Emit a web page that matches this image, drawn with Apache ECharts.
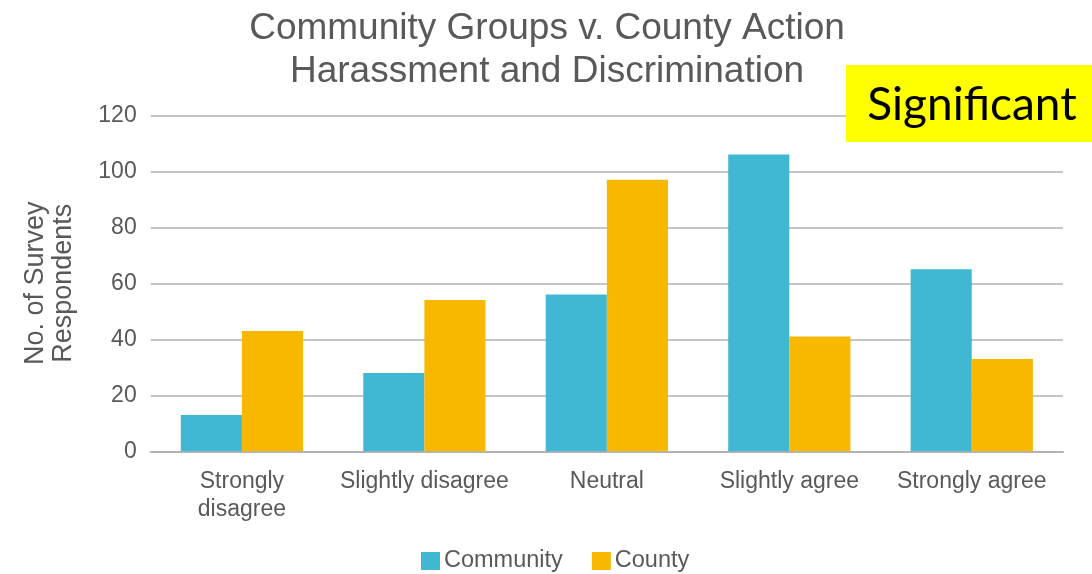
<!DOCTYPE html>
<html>
<head>
<meta charset="utf-8">
<title>Community Groups v. County Action</title>
<script src="https://cdn.jsdelivr.net/npm/echarts@6/dist/echarts.min.js"></script>
<style>
  html, body { margin: 0; padding: 0; background: #ffffff; }
  #chart { width: 1092px; height: 574px; }
</style>
</head>
<body>
<div id="chart"></div>
<script>
// Survey responses, grouped by answer
const categories = ['Strongly\ndisagree', 'Slightly disagree', 'Neutral', 'Slightly agree', 'Strongly agree'];
const communityValues = [13, 28, 56, 106, 65];
const countyValues = [43, 54, 97, 41, 33];
const seriesNames = ['Community', 'County'];
const yTicks = { min: 0, max: 120, interval: 20 };

const textGray = '#595959';
const font = '"Liberation Sans", Arial, sans-serif';

const chart = echarts.init(document.getElementById('chart'), null, { renderer: 'canvas' });

chart.setOption({
  backgroundColor: '#ffffff',
  animation: false,
  title: {
    text: 'Community Groups v. County Action\nHarassment and Discrimination',
    left: 542,
    top: 2,
    textAlign: 'center',
    textStyle: {
      fontFamily: font,
      fontSize: 37,
      fontWeight: 'normal',
      color: textGray,
      lineHeight: 43
    }
  },
  legend: {
    data: seriesNames,
    left: 421,
    top: 549,
    padding: 0,
    itemWidth: 19,
    itemHeight: 18,
    itemGap: 29,
    icon: 'rect',
    textStyle: { fontFamily: font, fontSize: 23.5, color: textGray, padding: [0, 0, 0, -1] }
  },
  grid: {
    left: 150.7,
    right: 29,
    top: 115.3,
    bottom: 122.7,
    containLabel: false
  },
  xAxis: {
    type: 'category',
    data: categories,
    axisTick: { show: false },
    axisLine: { show: true, lineStyle: { color: '#b3b3b3', width: 2 } },
    axisLabel: {
      fontFamily: font,
      fontSize: 23,
      color: textGray,
      lineHeight: 28,
      margin: 16,
      interval: 0
    }
  },
  yAxis: {
    type: 'value',
    min: yTicks.min,
    max: yTicks.max,
    interval: yTicks.interval,
    name: 'No. of Survey\nRespondents',
    nameLocation: 'middle',
    nameRotate: 90,
    nameGap: 73,
    nameTextStyle: { fontFamily: font, fontSize: 27, color: textGray, lineHeight: 28 },
    axisLine: { show: false },
    axisTick: { show: false },
    axisLabel: { fontFamily: font, fontSize: 23, color: textGray, margin: 14 },
    splitLine: { show: true, lineStyle: { color: '#c6c6c6', width: 2 } }
  },
  series: [
    {
      name: seriesNames[0],
      type: 'bar',
      data: communityValues,
      barGap: '0%',
      barCategoryGap: '33%',
      itemStyle: { color: '#41b8d3' }
    },
    {
      name: seriesNames[1],
      type: 'bar',
      data: countyValues,
      barGap: '0%',
      barCategoryGap: '33%',
      itemStyle: { color: '#f9b800' }
    }
  ],
  graphic: [
    {
      type: 'rect',
      z: 100,
      shape: { x: 846, y: 65, width: 246, height: 77 },
      style: { fill: '#ffff00' }
    },
    {
      type: 'text',
      z: 101,
      x: 972,
      y: 105,
      style: {
        text: 'Significant',
        fontFamily: 'Lato, "Noto Sans", sans-serif',
        fontSize: 46,
        fill: '#000000',
        align: 'center',
        verticalAlign: 'middle'
      }
    }
  ]
});
</script>
</body>
</html>
